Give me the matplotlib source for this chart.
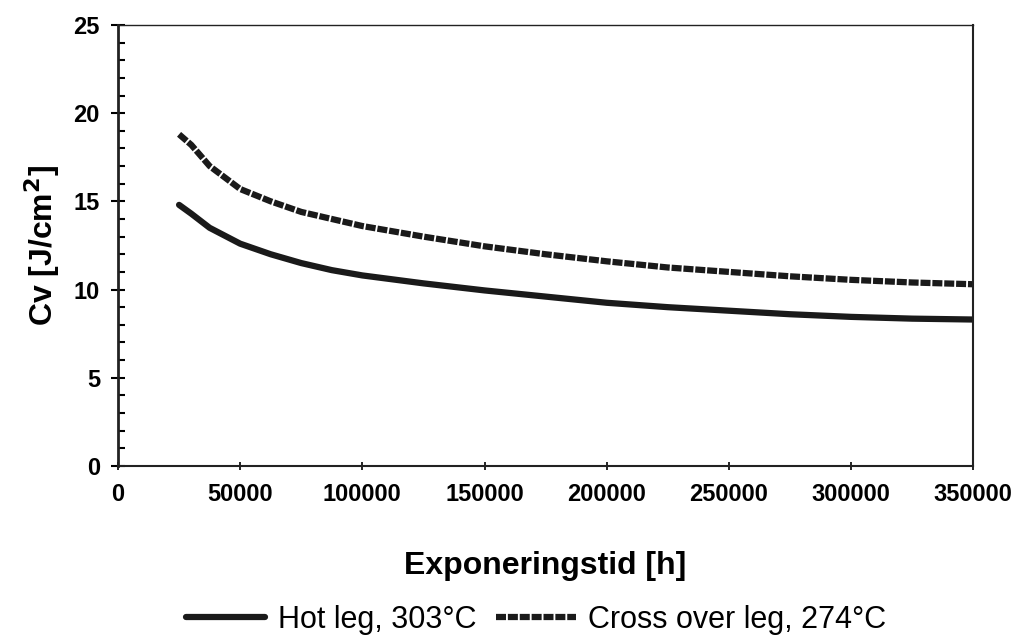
import numpy as np
import matplotlib
matplotlib.use("Agg")
import matplotlib.pyplot as plt
from matplotlib.ticker import MultipleLocator

plt.rcParams['font.family'] = ['Liberation Sans', 'DejaVu Sans']

# exposure time [h] and impact energy [J/cm2]
tid = [25000, 30000, 37500, 50000, 62500, 75000, 87500, 100000, 125000,
       150000, 175000, 200000, 225000, 250000, 275000, 300000, 325000, 350000]
hot_leg = [14.8, 14.3, 13.5, 12.6, 12.0, 11.5, 11.1, 10.8, 10.35,
           9.95, 9.6, 9.25, 9.0, 8.8, 8.6, 8.45, 8.35, 8.3]
cross_leg = [18.8, 18.2, 17.0, 15.7, 15.0, 14.4, 14.0, 13.6, 13.0,
             12.45, 12.0, 11.6, 11.25, 11.0, 10.75, 10.55, 10.4, 10.3]

fig = plt.figure(figsize=(10.17, 6.40), dpi=100)
ax = fig.add_axes([0.116, 0.272, 0.841, 0.689])

ax.plot(tid, hot_leg, color='#1a1a1a', lw=4.5, solid_capstyle='round',
        label='Hot leg, 303°C')
ax.plot(tid, cross_leg, color='#1a1a1a', lw=4.5, dashes=(1.6, 0.3),
        label='Cross over leg, 274°C')

ax.set_xlim(0, 350000)
ax.set_ylim(0, 25)
ax.set_xticks(np.arange(0, 350001, 50000))
ax.yaxis.set_major_locator(MultipleLocator(5))
ax.yaxis.set_minor_locator(MultipleLocator(1))
ax.tick_params(axis='y', which='major', direction='inout', length=10, width=1.5, labelsize=17, pad=8)
ax.tick_params(axis='y', which='minor', direction='in', length=5, width=1.5)
ax.tick_params(axis='x', which='major', direction='inout', length=6, width=1.2, labelsize=17, pad=9)
for lab in ax.get_xticklabels() + ax.get_yticklabels():
    lab.set_fontweight('bold')

ax.spines['left'].set_linewidth(2)
ax.spines['bottom'].set_linewidth(1.5)
ax.spines['top'].set_linewidth(1.0)
ax.spines['right'].set_linewidth(1.5)
for s in ax.spines.values():
    s.set_color('#222222')

ax.set_xlabel('Exponeringstid [h]', fontsize=23, fontweight='bold', labelpad=33)
ax.set_ylabel('Cv [J/cm$^\\mathbf{2}$]', fontsize=23, fontweight='bold', labelpad=8)

leg = fig.legend(loc='center', bbox_to_anchor=(0.527, 0.031), ncol=2, frameon=False,
                 fontsize=22, handlelength=2.6, columnspacing=0.65, handletextpad=0.4,
                 borderpad=0, borderaxespad=0)

fig.savefig('out.png', dpi=100)
